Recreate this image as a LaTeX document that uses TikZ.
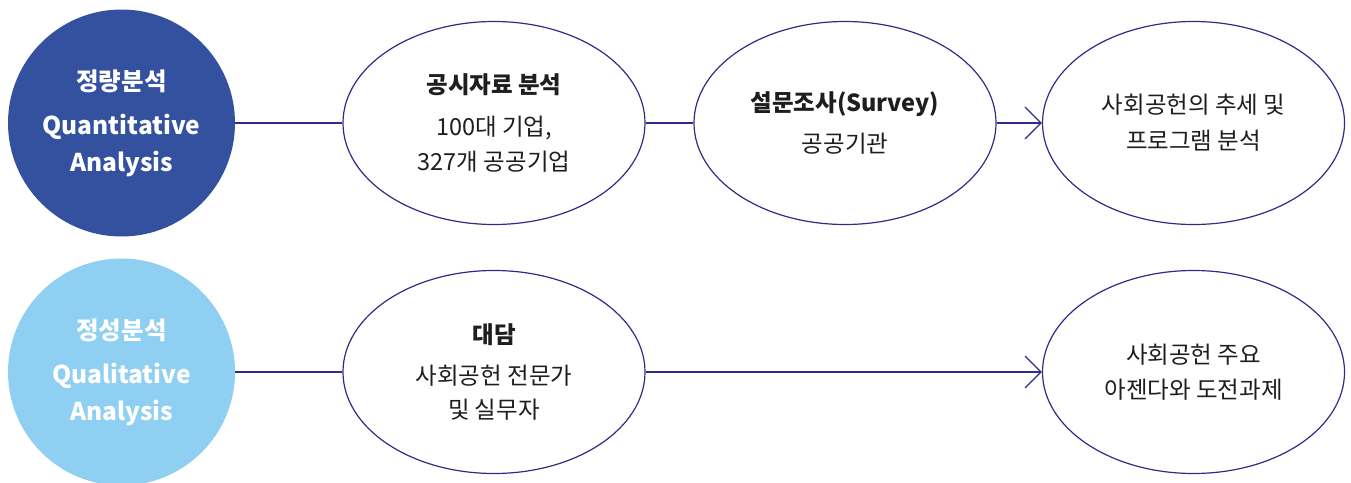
\documentclass[tikz,border=0pt]{standalone}
\usepackage{fontspec}
\setmainfont{Noto Sans CJK KR}
\usetikzlibrary{shapes.geometric,arrows.meta}
\definecolor{navy}{HTML}{2E2C88}
\definecolor{darkc}{HTML}{3451A0}
\definecolor{lightc}{HTML}{8FD0F2}
\definecolor{txt}{HTML}{1E1E1E}
\begin{document}
\begin{tikzpicture}[x=1pt,y=-1pt,
  bigcirc/.style={circle,minimum size=227pt,inner sep=0pt,text=white,align=center,font=\fontsize{24.5}{24.5}\selectfont\bfseries},
  oval/.style={ellipse,draw=navy,line width=1.2pt,minimum width=302pt,minimum height=203pt,inner sep=0pt,align=center,text=txt,font=\fontsize{23.5}{23.5}\selectfont},
  link/.style={navy,line width=1.2pt},
  arrowlink/.style={link,-{Straight Barb[length=16pt,width=32pt,line width=1.2pt]}}
]
\useasboundingbox (0,0) rectangle (1351,482);
\node[bigcirc,fill=darkc] (c1) at (121.5,123) {정량분석\\[19.5pt]Quantitative\\[10.5pt]Analysis};
\node[bigcirc,fill=lightc] (c2) at (121.5,372) {정성분석\\[19.5pt]Qualitative\\[10.5pt]Analysis};
\node[oval] (e1) at (494,123) {{\bfseries 공시자료 분석}\\[19pt]100대 기업,\\[10.5pt]327개 공공기업};
\node[oval] (e2) at (845,123) {{\bfseries 설문조사(Survey)}\\[15.5pt]공공기관};
\node[oval] (e3) at (1193.5,123) {사회공헌의 추세 및\\[12.5pt]프로그램 분석};
\node[oval] (e4) at (494,372) {{\bfseries 대담}\\[18pt]사회공헌 전문가\\[10.5pt]및 실무자};
\node[oval] (e5) at (1193.5,372) {사회공헌 주요\\[12pt]아젠다와 도전과제};
\draw[link] (c1.east) -- (e1.west);
\draw[link] (e1.east) -- (e2.west);
\draw[arrowlink] (e2.east) -- (e3.west);
\draw[link] (c2.east) -- (e4.west);
\draw[arrowlink] (e4.east) -- (e5.west);
\end{tikzpicture}
\end{document}
